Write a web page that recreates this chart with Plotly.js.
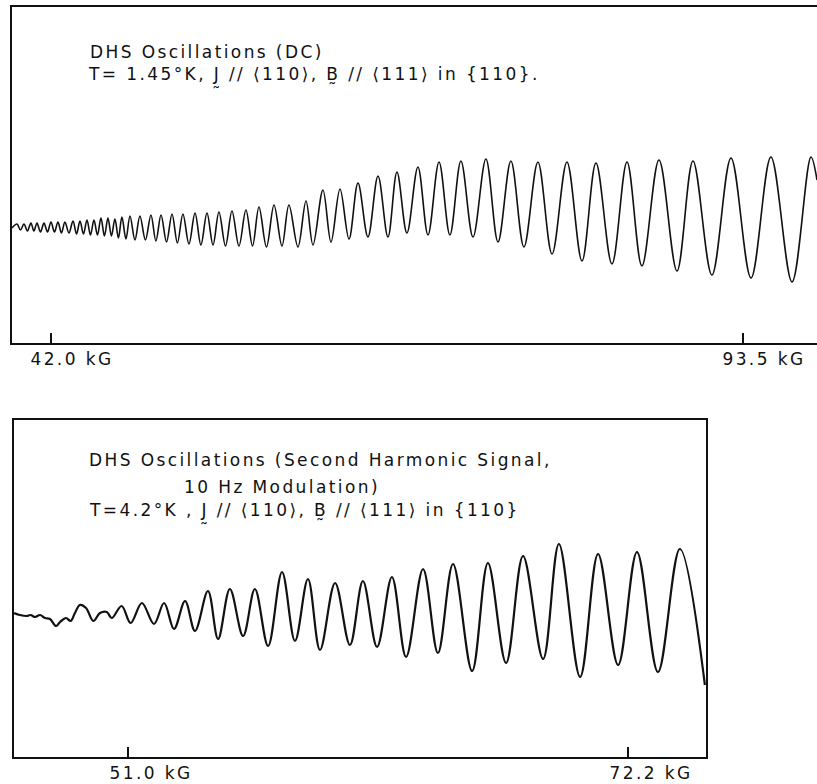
<!DOCTYPE html>
<html>
<head>
<meta charset="utf-8">
<script src="https://cdn.plot.ly/plotly-3.0.1.min.js"></script>
<style>
  html, body { margin: 0; padding: 0; background: #fff; }
  #chart { width: 817px; height: 784px; }
  text { letter-spacing: 2.4px; }
</style>
</head>
<body>
<div id="chart"></div>
<script>
// ---- Upper panel: DC DHS oscillations (field in kG, signal in arbitrary units) ----
const topField = [
  39.10, 39.47, 39.73, 39.99, 40.25, 40.51, 40.73, 40.96, 41.22, 41.48, 41.74,
  42.00, 42.26, 42.52, 42.78, 43.04, 43.34, 43.64, 43.90, 44.16, 44.42, 44.68,
  44.94, 45.20, 45.46, 45.72, 45.98, 46.24, 46.50, 46.76, 47.02, 47.28, 47.58,
  47.88, 48.25, 48.62, 49.03, 49.44, 49.81, 50.19, 50.60, 51.01, 51.41, 51.82,
  52.27, 52.72, 53.16, 53.61, 54.06, 54.50, 54.99, 55.47, 55.99, 56.51, 57.00,
  57.48, 58.04, 58.60, 59.19, 59.71, 60.38, 60.98, 61.50, 62.24, 62.84, 63.51,
  64.18, 64.85, 65.59, 66.34, 67.08, 67.75, 68.49, 69.31, 70.06, 70.88, 71.69,
  72.51, 73.41, 74.37, 75.27, 76.23, 77.20, 78.24, 79.29, 80.40, 81.52, 82.56,
  83.75, 84.87, 85.98, 87.25, 88.59, 89.78, 91.19, 92.61, 94.10, 95.58, 97.15,
  98.56, 99.01
];
const topSignal = [
  0, 4, -2, 4, -3, 5, -3, 5, -4, 5, -4,
  6, -4, 6, -5, 6, -5, 7, -6, 7, -6, 8,
  -7, 8, -7, 10, -8, 10, -8, 9, -10, 11, -11,
  12, -12, 12, -12, 13, -13, 13, -14, 14, -15, 14,
  -16, 15, -17, 15, -17, 16, -18, 17, -18, 18, -18,
  21, -19, 23, -18, 23, -19, 27, -17, 38, -14, 39,
  -11, 45, -9, 52, -9, 56, -5, 61, -7, 66, -7,
  67, -9, 69, -14, 67, -19, 66, -26, 66, -33, 65,
  -36, 66, -38, 68, -43, 67, -47, 70, -50, 71, -54,
  71, 48
];
const topTickVals = [42.0, 93.5];
const topTickText = ['42.0 kG', '93.5 kG'];

// ---- Lower panel: second harmonic signal ----
const bottomField = [
  46.17, 46.42, 46.70, 46.87, 47.06, 47.27, 47.48, 47.69, 47.95, 48.12, 48.37,
  48.57, 48.75, 48.96, 49.22, 49.53, 49.81, 50.10, 50.31, 50.73, 51.11, 51.59,
  52.10, 52.53, 52.95, 53.42, 53.84, 54.39, 54.82, 55.32, 55.88, 56.38, 56.94,
  57.53, 58.08, 58.63, 59.14, 59.78, 60.41, 60.96, 61.56, 62.19, 62.79, 63.51,
  64.14, 64.78, 65.59, 66.26, 67.03, 67.75, 68.60, 69.27, 70.17, 70.93, 71.78,
  72.58, 73.47, 74.40, 75.46
];
const bottomSignal = [
  0, -2, -3, -2, -4, -2, -5, -6, -13, -9, -5,
  -8, 0, 8, 5, -8, 0, 1, -5, 7, -10, 10,
  -11, 10, -16, 12, -18, 22, -26, 24, -23, 24, -33,
  41, -28, 34, -37, 30, -32, 32, -34, 36, -44, 44,
  -40, 49, -58, 50, -50, 57, -46, 69, -64, 59, -52,
  61, -59, 64, -72
];
const bottomTickVals = [51.0, 72.2];
const bottomTickText = ['51.0 kG', '72.2 kG'];

const titleTop = ['DHS Oscillations (DC)',
  'T= 1.45°K, J\u0330 // \u27E8110\u27E9, B\u0330 // \u27E8111\u27E9 in {110}.'];
const titleBottom = ['DHS Oscillations (Second Harmonic Signal,',
  '10 Hz Modulation)',
  'T=4.2°K , J\u0330 // \u27E8110\u27E9, B\u0330 // \u27E8111\u27E9 in {110}'];

// ---- layout helpers ----
const W = 817, H = 784;
const FONT = 'DejaVu Sans, Verdana, sans-serif';
const INK = '#111111';
const px = v => v / W;
const py = v => 1 - v / H;

const traces = [
  { x: topField, y: topSignal, xaxis: 'x', yaxis: 'y', type: 'scatter', mode: 'lines',
    line: { color: INK, width: 1.6, shape: 'spline', smoothing: 1 }, hoverinfo: 'skip' },
  { x: bottomField, y: bottomSignal, xaxis: 'x2', yaxis: 'y2', type: 'scatter', mode: 'lines',
    line: { color: INK, width: 2.2, shape: 'spline', smoothing: 1 }, hoverinfo: 'skip' }
];

const xCommon = {
  ticks: 'inside', ticklen: 10, tickwidth: 1.2, tickcolor: INK,
  showline: true, linewidth: 2, linecolor: INK, mirror: true,
  showgrid: false, zeroline: false,
  tickfont: { family: FONT, size: 17, color: INK },
  ticklabelstandoff: 0, fixedrange: true
};
const yCommon = {
  showline: true, linewidth: 2, linecolor: INK,
  showgrid: false, zeroline: false, showticklabels: false, ticks: '', fixedrange: true
};

function note(text, x, y) {
  return { text: text, xref: 'paper', yref: 'paper', x: px(x), y: py(y),
    xanchor: 'left', yanchor: 'middle', showarrow: false,
    font: { family: FONT, size: 17, color: INK } };
}

const layout = {
  width: W, height: H,
  margin: { l: 0, r: 0, t: 0, b: 0 },
  paper_bgcolor: '#fff', plot_bgcolor: '#fff',
  showlegend: false,
  xaxis: Object.assign({}, xCommon, {
    domain: [px(12), 1], range: [39.10, 99.01], anchor: 'y',
    tickvals: topTickVals, ticktext: topTickText, ticklabelshift: 21
  }),
  yaxis: Object.assign({}, yCommon, {
    domain: [py(343), py(7)], range: [-115, 221], anchor: 'x', mirror: false
  }),
  xaxis2: Object.assign({}, xCommon, {
    domain: [px(14), px(706)], range: [46.166, 75.507], anchor: 'y2',
    tickvals: bottomTickVals, ticktext: bottomTickText, ticklabelshift: 23
  }),
  yaxis2: Object.assign({}, yCommon, {
    domain: [py(757), py(420)], range: [-144, 193], anchor: 'x2', mirror: true
  }),
  annotations: [
    note(titleTop[0], 88, 52.5),
    note(titleTop[1], 86, 77),
    note(titleBottom[0], 87, 459.5),
    note(titleBottom[1], 182, 486.5),
    note(titleBottom[2], 87, 512.5)
  ]
};

Plotly.newPlot('chart', traces, layout, { staticPlot: true, displayModeBar: false });
</script>
</body>
</html>
